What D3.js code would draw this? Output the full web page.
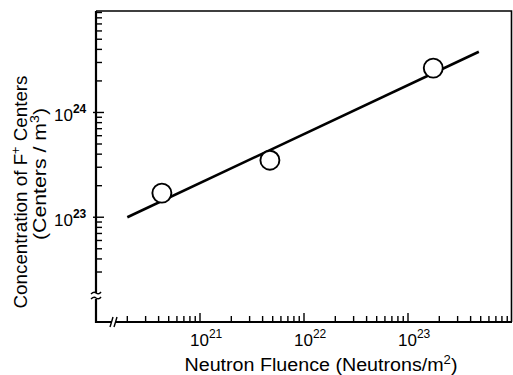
<!DOCTYPE html>
<html>
<head>
    <title>F+ Centers vs Neutron Fluence</title>
    <script src="https://d3js.org/d3.v7.min.js"></script>
    <style>
        body { margin: 0; background: #fff; }
        text { font-family: "Liberation Sans", Arial, sans-serif; fill: #000; }
    </style>
</head>
<body>
<script>
    // measured points
    const fluence = [4.3e20, 4.7e21, 1.75e23];
    const concentration = [1.7e23, 3.5e23, 2.65e24];

    // fitted line end points
    const fitFluence = [2.0e20, 4.8e23];
    const fitConcentration = [1.0e23, 3.8e24];

    const xTickExps = [21, 22, 23];
    const yTickExps = [23, 24];

    const xLabel = ["Neutron Fluence (Neutrons/m", "2", ")"];
    const yLabel1 = ["Concentration of F", "+", " Centers"];
    const yLabel2 = ["(Centers / m", "3", ")"];

    const width = 513, height = 375;

    const x = d3.scaleLog().domain([1e20, 1e24]).range([96, 512]);
    const y = d3.scaleLog().domain([1e22, 9.3e24]).range([322, 11]);

    const svg = d3.select("body").append("svg")
        .attr("width", width)
        .attr("height", height);

    // frame (top and right)
    svg.append("path")
        .attr("d", `M${x.range()[0]},${y.range()[1]} H511.5 V${y.range()[0]}`)
        .attr("fill", "none")
        .attr("stroke", "#000")
        .attr("stroke-width", 1.6);

    // minor + major ticks
    const xTicks = x.ticks().filter(d => d > 1.5e20 && d < 1e24);
    svg.selectAll(".xtick")
        .data(xTicks)
        .join("line")
        .attr("x1", d => x(d)).attr("x2", d => x(d))
        .attr("y1", 322)
        .attr("y2", d => Number.isInteger(Math.log10(d)) ? 313 : 316)
        .attr("stroke", "#000").attr("stroke-width", 1.4);

    const yTicks = y.ticks().filter(d => d > 2.5e22 && d < 9.3e24);
    svg.selectAll(".ytick")
        .data(yTicks)
        .join("line")
        .attr("y1", d => y(d)).attr("y2", d => y(d))
        .attr("x1", d => Number.isInteger(Math.log10(d)) ? 93 : 96)
        .attr("x2", d => Number.isInteger(Math.log10(d)) ? 104 : 102)
        .attr("stroke", "#000").attr("stroke-width", 1.4);

    // axes with breaks
    const axis = svg.append("g").attr("stroke", "#000").attr("fill", "none").attr("stroke-width", 2.2);
    axis.append("path").attr("d", `M96,${y.range()[1]} V293`);
    axis.append("path").attr("d", `M96,299 V322 H111`);
    axis.append("path").attr("d", `M116,322 H512`);
    // y break marks
    axis.append("path").attr("d", "M91,294 q3,-3 5,-1 q3,2 5,-1").attr("stroke-width", 1.4);
    axis.append("path").attr("d", "M91,299 q3,-3 5,-1 q3,2 5,-1").attr("stroke-width", 1.4);
    // x break marks
    axis.append("path").attr("d", "M110,327 q1,-3 3,-10").attr("stroke-width", 1.4);
    axis.append("path").attr("d", "M114,327 q1,-3 3,-10").attr("stroke-width", 1.4);

    // x tick labels
    const xl = svg.selectAll(".xlab")
        .data(xTickExps)
        .join("text")
        .attr("x", d => x(Math.pow(10, d)) - 10)
        .attr("y", 346)
        .attr("font-size", 17);
    xl.append("tspan").text("10");
    xl.append("tspan").attr("dy", -8).attr("font-size", 12).text(d => d);

    // y tick labels
    const yl = svg.selectAll(".ylab")
        .data(yTickExps)
        .join("text")
        .attr("x", 54)
        .attr("y", d => y(Math.pow(10, d)) + 9)
        .attr("font-size", 17);
    yl.append("tspan").text("10");
    yl.append("tspan").attr("dy", -8).attr("font-size", 12).attr("font-weight", "bold").text(d => d);

    // fit line
    svg.append("line")
        .attr("x1", x(fitFluence[0])).attr("y1", y(fitConcentration[0]))
        .attr("x2", x(fitFluence[1])).attr("y2", y(fitConcentration[1]))
        .attr("stroke", "#000").attr("stroke-width", 2.6);

    // data circles
    svg.selectAll(".pt")
        .data(fluence.map((f, i) => ({ f: f, c: concentration[i] })))
        .join("circle")
        .attr("cx", d => x(d.f))
        .attr("cy", d => y(d.c))
        .attr("r", 9.5)
        .attr("fill", "#fff")
        .attr("stroke", "#000")
        .attr("stroke-width", 1.9);

    // axis titles with superscripts
    function titled(sel, parts, len) {
        const t = sel.attr("text-anchor", "middle")
            .attr("font-size", 18)
            .attr("textLength", len).attr("lengthAdjust", "spacingAndGlyphs");
        t.append("tspan").text(parts[0]);
        t.append("tspan").attr("dy", -7).attr("font-size", 12).text(parts[1]);
        t.append("tspan").attr("dy", 7).text(parts[2]);
    }

    titled(svg.append("text").attr("x", 321).attr("y", 371), xLabel, 273);
    titled(svg.append("text").attr("transform", "translate(27,192) rotate(-90)"), yLabel1, 233);
    titled(svg.append("text").attr("transform", "translate(46,174) rotate(-90)"), yLabel2, 132);
</script>
</body>
</html>
